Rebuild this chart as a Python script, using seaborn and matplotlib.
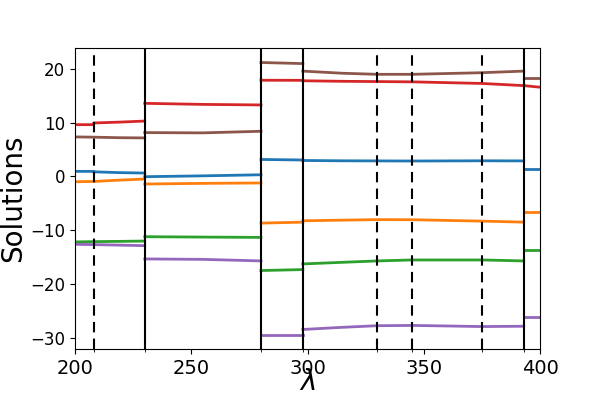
import pandas as pd
import matplotlib
matplotlib.use('Agg')
import matplotlib.pyplot as plt
import seaborn as sns

# wavelength breakpoints of each piece (pieces are split at the solid lines)
seg_x = [
    [200, 208, 208, 219, 230],
    [230, 255, 280],
    [280, 298],
    [298, 315, 330, 345, 360, 375, 393],
    [393, 400],
]

# solution values, one list per segment
sol_blue = [
    [0.93, 0.93, 0.85, 0.7, 0.62],
    [-0.06, 0.1, 0.3],
    [3.15, 3.05],
    [2.96, 2.9, 2.88, 2.86, 2.88, 2.9, 2.88],
    [1.42, 1.42],
]
sol_orange = [
    [-0.99, -0.95, -0.95, -0.7, -0.49],
    [-1.42, -1.3, -1.23],
    [-8.7, -8.52],
    [-8.27, -8.15, -8.05, -8.07, -8.2, -8.33, -8.52],
    [-6.67, -6.67],
]
sol_green = [
    [-12.2, -12.15, -12.15, -12.1, -12.04],
    [-11.23, -11.3, -11.36],
    [-17.53, -17.35],
    [-16.3, -16.0, -15.74, -15.56, -15.56, -15.56, -15.74],
    [-13.7, -13.7],
]
sol_red = [
    [9.63, 9.63, 9.94, 10.1, 10.3],
    [13.6, 13.4, 13.3],
    [17.9, 17.88],
    [17.8, 17.7, 17.65, 17.6, 17.45, 17.3, 16.9],
    [16.9, 16.6],
]
sol_purple = [
    [-12.65, -12.7, -12.7, -12.8, -12.9],
    [-15.37, -15.45, -15.74],
    [-29.6, -29.6],
    [-28.5, -28.1, -27.8, -27.75, -27.85, -27.96, -27.9],
    [-26.2, -26.2],
]
sol_brown = [
    [7.35, 7.3, 7.3, 7.2, 7.16],
    [8.15, 8.1, 8.4],
    [21.2, 21.0],
    [19.6, 19.2, 19.0, 19.0, 19.15, 19.3, 19.6],
    [18.4, 18.4],
]

series = [sol_blue, sol_orange, sol_green, sol_red, sol_purple, sol_brown]
colors = ['tab:blue', 'tab:orange', 'tab:green', 'tab:red', 'tab:purple', 'tab:brown']

solid_lines = [230, 280, 298, 393]
dashed_lines = [208, 330, 345, 375]

# long table for seaborn
rows = []
for k, sol in enumerate(series):
    for s, (xs, ys) in enumerate(zip(seg_x, sol)):
        for x, y in zip(xs, ys):
            rows.append({'lam': x, 'val': y, 'sol': k, 'seg': s})
df = pd.DataFrame(rows)

fig, ax = plt.subplots(figsize=(6, 4), dpi=100)
sns.lineplot(data=df, x='lam', y='val', hue='sol', units='seg', estimator=None,
             sort=False, palette=colors, linewidth=2, legend=False, ax=ax)

for x in solid_lines:
    ax.axvline(x, color='black', linewidth=1.5)
for x in dashed_lines:
    ax.axvline(x, color='black', linewidth=1.5, linestyle=(0, (5, 3)))

ax.set_xticks(solid_lines + dashed_lines, minor=True)
ax.set_xlim(200, 400)
ax.set_ylim(-32.1, 23.9)
ax.set_xticks([200, 250, 300, 350, 400])
ax.set_yticks([-30, -20, -10, 0, 10, 20])
ax.tick_params(axis='x', labelsize=14)
ax.tick_params(axis='y', labelsize=12)
ax.set_xlabel(r'$\lambda$', fontsize=20, labelpad=-7)
ax.set_ylabel('Solutions', fontsize=20, labelpad=2)

fig.subplots_adjust(left=0.125, right=0.9, top=0.88, bottom=0.128)
fig.savefig('out.png', dpi=100)
plt.close(fig)
